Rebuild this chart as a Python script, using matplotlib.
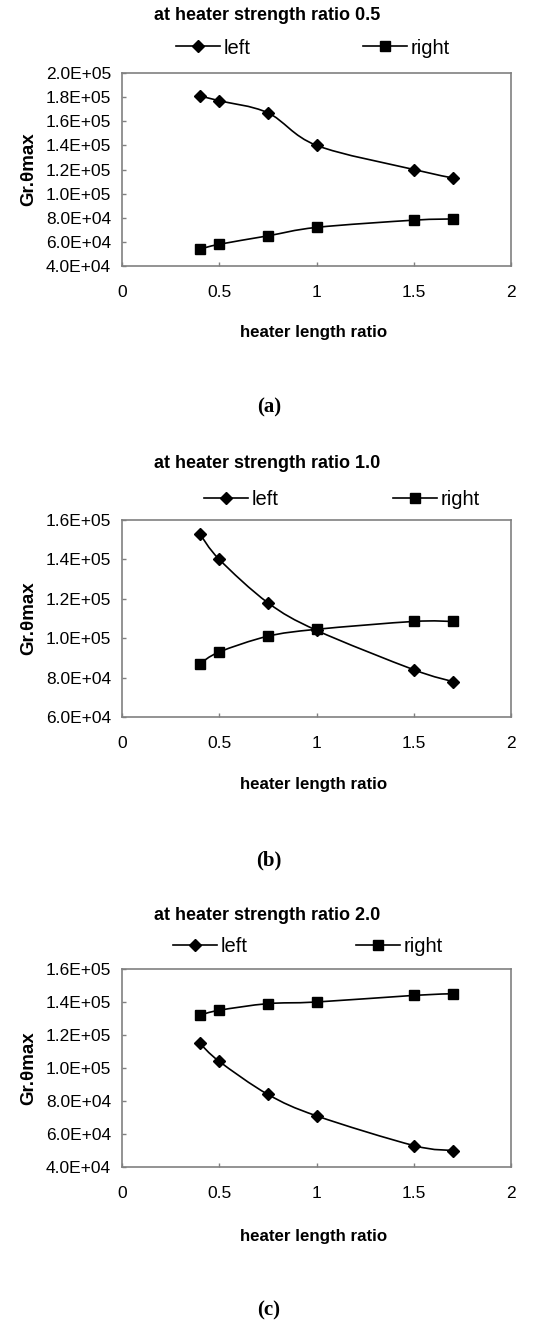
import numpy as np
import matplotlib
matplotlib.use("Agg")
import matplotlib.pyplot as plt
from matplotlib.path import Path
from matplotlib.patches import PathPatch
from matplotlib.lines import Line2D

plt.rcParams['font.family'] = ['Liberation Sans', 'DejaVu Sans']

# heater length ratio
x = [0.4, 0.5, 0.75, 1.0, 1.5, 1.7]

# (a) heater strength ratio 0.5
left_a = [1.81e5, 1.77e5, 1.67e5, 1.40e5, 1.20e5, 1.13e5]
right_a = [5.4e4, 5.8e4, 6.5e4, 7.2e4, 7.8e4, 7.9e4]
# (b) heater strength ratio 1.0
left_b = [1.53e5, 1.40e5, 1.18e5, 1.04e5, 8.4e4, 7.8e4]
right_b = [8.7e4, 9.3e4, 1.01e5, 1.045e5, 1.085e5, 1.085e5]
# (c) heater strength ratio 2.0
left_c = [1.15e5, 1.04e5, 8.4e4, 7.1e4, 5.3e4, 5.0e4]
right_c = [1.32e5, 1.35e5, 1.39e5, 1.40e5, 1.44e5, 1.45e5]

titles = ["at heater strength ratio 0.5", "at heater strength ratio 1.0",
          "at heater strength ratio 2.0"]
panel_tags = ["(a)", "(b)", "(c)"]
yticks_a = [4e4, 6e4, 8e4, 1.0e5, 1.2e5, 1.4e5, 1.6e5, 1.8e5, 2.0e5]
yticks_b = [6e4, 8e4, 1.0e5, 1.2e5, 1.4e5, 1.6e5]
yticks_c = [4e4, 6e4, 8e4, 1.0e5, 1.2e5, 1.4e5, 1.6e5]
xticks = [0, 0.5, 1, 1.5, 2]

W, H = 538, 1322
fig = plt.figure(figsize=(W / 100, H / 100), dpi=100)


def smooth_path(xs, ys):
    # excel-style smoothed line: cubic bezier through the points
    p = np.column_stack([xs, ys])
    ext = np.vstack([p[0], p, p[-1]])
    verts = [p[0]]
    codes = [Path.MOVETO]
    for i in range(len(p) - 1):
        p0, p1, p2, p3 = ext[i], ext[i + 1], ext[i + 2], ext[i + 3]
        verts += [p1 + (p2 - p0) / 6, p2 - (p3 - p1) / 6, p2]
        codes += [Path.CURVE4] * 3
    return Path(verts, codes)


def fmt(v):
    m, e = f"{v:.1E}".split("E")
    return f"{m}E+{int(e):02d}"


panels = [
    (left_a, right_a, yticks_a, 73, 266, 15, 48, 178, 365, 290, 332, 407),
    (left_b, right_b, yticks_b, 520, 717, 463, 500, 206, 395, 742, 784, 860),
    (left_c, right_c, yticks_c, 969, 1167, 915, 947, 175, 358, 1192, 1237, 1310),
]

for k, (lv, rv, yt, top, bot, ty, ly, lx1, lx2, xty, xly, tagy) in enumerate(panels):
    ax = fig.add_axes([122 / W, 1 - bot / H, (511 - 122) / W, (bot - top) / H])
    for vals, mk, ms in [(lv, 'D', 6.5), (rv, 's', 7.5)]:
        ax.add_patch(PathPatch(smooth_path(x, vals), fill=False, lw=1.2,
                               edgecolor='black'))
        ax.plot(x, vals, ls='none', marker=mk, ms=ms, color='black')
    ax.set_xlim(0, 2)
    ax.set_ylim(yt[0], yt[-1])
    ax.set_xticks(xticks)
    ax.set_xticklabels(["0", "0.5", "1", "1.5", "2"])
    ax.set_yticks(yt)
    ax.set_yticklabels([fmt(v) for v in yt])
    ax.tick_params(axis='both', labelsize=12.5, colors='#808080',
                   labelcolor='black', length=3, width=1)
    ax.tick_params(axis='x', direction='in', pad=14)
    ax.tick_params(axis='y', direction='in', pad=8)
    for s in ax.spines.values():
        s.set_color('#808080')
        s.set_linewidth(1.2)
    ax.set_ylabel("Gr.\u03b8max", fontsize=13.5, fontweight='bold', labelpad=6)

    fig.text(267 / W, 1 - ty / H, titles[k], ha='center', va='center',
             fontsize=13, fontweight='bold')
    fig.text(314 / W, 1 - xly / H, "heater length ratio", ha='center',
             va='center', fontsize=12.2, fontweight='bold')
    fig.text(269 / W, 1 - tagy / H, panel_tags[k], ha='center', va='center',
             fontsize=15, fontweight='bold', family='Liberation Serif')

    h1 = Line2D([], [], color='black', lw=1.2, marker='D', ms=6.5)
    h2 = Line2D([], [], color='black', lw=1.2, marker='s', ms=7.5)
    for h, lab, lx in [(h1, "left", lx1), (h2, "right", lx2)]:
        fig.legend([h], [lab], loc='center left',
                   bbox_to_anchor=(lx / W - 0.03, 1 - ly / H), frameon=False,
                   fontsize=14.5, handlelength=2.2, handletextpad=0.15,
                   borderpad=0.2)

fig.savefig("out.png", dpi=100, facecolor='white')
